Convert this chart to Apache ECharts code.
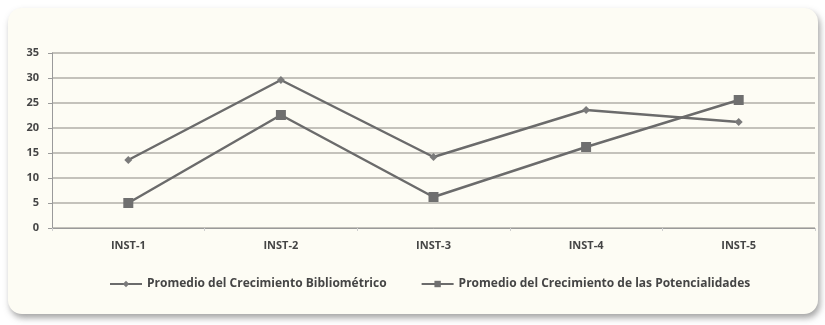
<!DOCTYPE html>
<html>
<head>
<meta charset="utf-8">
<script src="https://cdn.jsdelivr.net/npm/echarts@6/dist/echarts.min.js"></script>
<style>
  html, body { margin: 0; padding: 0; background: #ffffff; }
  #card {
    position: absolute; left: 8px; top: 8px; width: 810px; height: 306px;
    background: #fdfcf4; border-radius: 14px;
    box-shadow: 2px 4px 6px rgba(90, 90, 90, 0.55);
  }
  #chart { position: absolute; left: 0; top: 0; width: 825px; height: 325px; }
</style>
</head>
<body>
<div id="card"></div>
<div id="chart"></div>
<script>
const categories = ['INST-1', 'INST-2', 'INST-3', 'INST-4', 'INST-5'];
const bibliometrico = [13.6, 29.6, 14.2, 23.6, 21.2];
const potencialidades = [5.0, 22.6, 6.2, 16.2, 25.6];
const seriesNames = [
  'Promedio del Crecimiento Bibliométrico',
  'Promedio del Crecimiento de las Potencialidades'
];

const chart = echarts.init(document.getElementById('chart'), null, { renderer: 'canvas' });
const lineColor = '#6b6b6b';
const textStyle = { color: '#454545', fontSize: 11, fontWeight: 'bold', fontFamily: 'Open Sans, sans-serif' };

chart.setOption({
  backgroundColor: 'transparent',
  animation: false,
  grid: { left: 52, right: 10, top: 53, bottom: 97 },
  legend: {
    bottom: 30,
    left: 104,
    itemGap: 34,
    itemWidth: 32,
    itemHeight: 8,
    textStyle: Object.assign({}, textStyle, { fontSize: 12 }),
    data: seriesNames
  },
  xAxis: {
    type: 'category',
    data: categories,
    boundaryGap: true,
    axisLine: { lineStyle: { color: '#9a9a9a', width: 1 } },
    axisTick: { show: true, length: 3, lineStyle: { color: '#cfcfcf' } },
    axisLabel: Object.assign({ margin: 12 }, textStyle)
  },
  yAxis: {
    type: 'value',
    min: 0,
    max: 35,
    interval: 5,
    axisLine: { show: true, lineStyle: { color: '#9a9a9a', width: 1 } },
    axisTick: { show: true, length: 4, lineStyle: { color: '#9a9a9a' } },
    axisLabel: Object.assign({ margin: 13 }, textStyle),
    splitLine: { lineStyle: { color: '#c4c2bb', width: 2 } }
  },
  series: [
    {
      name: seriesNames[0],
      type: 'line',
      data: bibliometrico,
      symbol: 'diamond',
      symbolSize: 8,
      lineStyle: { color: lineColor, width: 2.5 },
      itemStyle: { color: '#7a7a7a' }
    },
    {
      name: seriesNames[1],
      type: 'line',
      data: potencialidades,
      symbol: 'rect',
      symbolSize: 10,
      lineStyle: { color: lineColor, width: 2.5 },
      itemStyle: { color: '#6f6f6f' }
    }
  ]
});
</script>
</body>
</html>
